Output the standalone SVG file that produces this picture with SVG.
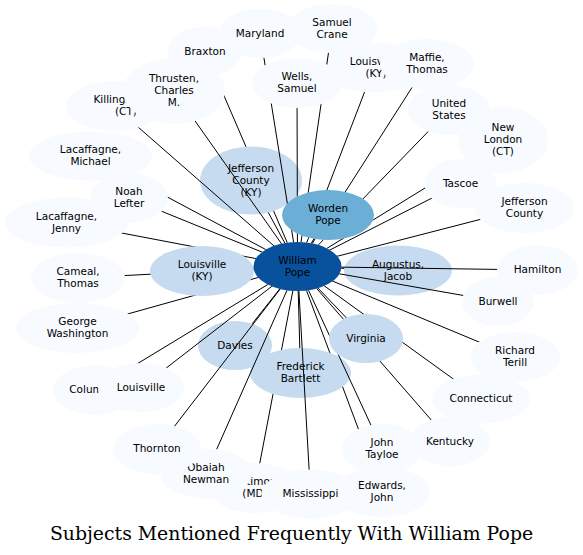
<svg xmlns="http://www.w3.org/2000/svg" width="583" height="555" viewBox="0 0 583 555">
<style>
.n ellipse{stroke:none}
.dark{fill:#08519c}.w{fill:#6baed6}.mid{fill:#c6dbef}.pale{fill:#f7fbff}
text{font-family:"DejaVu Sans","Liberation Sans",sans-serif;font-size:10.5px;text-anchor:middle;fill:#000}
text.title{font-family:"DejaVu Serif","Liberation Serif",serif;font-size:18.85px}
#edges line{stroke:#000;stroke-width:1;fill:none}
mask ellipse{fill:#000}
mask rect{fill:#fff}
</style>
<defs>
<mask id="mk-augustus" maskUnits="userSpaceOnUse" x="0" y="0" width="583" height="555"><rect width="583" height="555"/><ellipse cx="297.5" cy="266.5" rx="44" ry="24.5"/><ellipse cx="398" cy="270.5" rx="54" ry="25"/></mask>
<mask id="mk-baltimore" maskUnits="userSpaceOnUse" x="0" y="0" width="583" height="555"><rect width="583" height="555"/><ellipse cx="297.5" cy="266.5" rx="44" ry="24.5"/><ellipse cx="255" cy="488" rx="46" ry="25"/><ellipse cx="300.5" cy="373" rx="50.5" ry="25"/><ellipse cx="206" cy="473.5" rx="46" ry="25"/><ellipse cx="310.5" cy="494" rx="49" ry="24.5"/></mask>
<mask id="mk-braxton" maskUnits="userSpaceOnUse" x="0" y="0" width="583" height="555"><rect width="583" height="555"/><ellipse cx="297.5" cy="266.5" rx="44" ry="24.5"/><ellipse cx="205" cy="51.5" rx="37" ry="24.5"/><ellipse cx="251" cy="180.5" rx="51" ry="34"/><ellipse cx="174" cy="91" rx="51" ry="33"/></mask>
<mask id="mk-burwell" maskUnits="userSpaceOnUse" x="0" y="0" width="583" height="555"><rect width="583" height="555"/><ellipse cx="297.5" cy="266.5" rx="44" ry="24.5"/><ellipse cx="498" cy="301.5" rx="36" ry="24.5"/></mask>
<mask id="mk-cameal" maskUnits="userSpaceOnUse" x="0" y="0" width="583" height="555"><rect width="583" height="555"/><ellipse cx="297.5" cy="266.5" rx="44" ry="24.5"/><ellipse cx="78" cy="278" rx="47" ry="25"/><ellipse cx="202" cy="271" rx="52" ry="25"/></mask>
<mask id="mk-columbia" maskUnits="userSpaceOnUse" x="0" y="0" width="583" height="555"><rect width="583" height="555"/><ellipse cx="297.5" cy="266.5" rx="44" ry="24.5"/><ellipse cx="94" cy="390" rx="41" ry="24.5"/><ellipse cx="141" cy="387.5" rx="43" ry="24.5"/></mask>
<mask id="mk-connecticut" maskUnits="userSpaceOnUse" x="0" y="0" width="583" height="555"><rect width="583" height="555"/><ellipse cx="297.5" cy="266.5" rx="44" ry="24.5"/><ellipse cx="481" cy="399" rx="49" ry="24.5"/><ellipse cx="366" cy="338.5" rx="37" ry="24.5"/></mask>
<mask id="mk-davies" maskUnits="userSpaceOnUse" x="0" y="0" width="583" height="555"><rect width="583" height="555"/><ellipse cx="297.5" cy="266.5" rx="44" ry="24.5"/><ellipse cx="235" cy="345.5" rx="37" ry="24.5"/></mask>
<mask id="mk-edwards" maskUnits="userSpaceOnUse" x="0" y="0" width="583" height="555"><rect width="583" height="555"/><ellipse cx="297.5" cy="266.5" rx="44" ry="24.5"/><ellipse cx="382" cy="492" rx="48" ry="25"/><ellipse cx="300.5" cy="373" rx="50.5" ry="25"/><ellipse cx="382" cy="449" rx="40" ry="25"/><ellipse cx="366" cy="338.5" rx="37" ry="24.5"/></mask>
<mask id="mk-fb" maskUnits="userSpaceOnUse" x="0" y="0" width="583" height="555"><rect width="583" height="555"/><ellipse cx="297.5" cy="266.5" rx="44" ry="24.5"/><ellipse cx="300.5" cy="373" rx="50.5" ry="25"/></mask>
<mask id="mk-georgew" maskUnits="userSpaceOnUse" x="0" y="0" width="583" height="555"><rect width="583" height="555"/><ellipse cx="297.5" cy="266.5" rx="44" ry="24.5"/><ellipse cx="77.5" cy="328" rx="61.5" ry="25"/><ellipse cx="202" cy="271" rx="52" ry="25"/></mask>
<mask id="mk-hamilton" maskUnits="userSpaceOnUse" x="0" y="0" width="583" height="555"><rect width="583" height="555"/><ellipse cx="297.5" cy="266.5" rx="44" ry="24.5"/><ellipse cx="537.5" cy="270" rx="40.5" ry="24.5"/></mask>
<mask id="mk-jeffco" maskUnits="userSpaceOnUse" x="0" y="0" width="583" height="555"><rect width="583" height="555"/><ellipse cx="297.5" cy="266.5" rx="44" ry="24.5"/><ellipse cx="524.5" cy="208" rx="50" ry="25"/><ellipse cx="460.5" cy="183.5" rx="36" ry="24.5"/><ellipse cx="328" cy="215" rx="46" ry="25"/></mask>
<mask id="mk-jcky" maskUnits="userSpaceOnUse" x="0" y="0" width="583" height="555"><rect width="583" height="555"/><ellipse cx="297.5" cy="266.5" rx="44" ry="24.5"/><ellipse cx="251" cy="180.5" rx="51" ry="34"/><ellipse cx="328" cy="215" rx="46" ry="25"/></mask>
<mask id="mk-tayloe" maskUnits="userSpaceOnUse" x="0" y="0" width="583" height="555"><rect width="583" height="555"/><ellipse cx="297.5" cy="266.5" rx="44" ry="24.5"/><ellipse cx="382" cy="449" rx="40" ry="25"/><ellipse cx="366" cy="338.5" rx="37" ry="24.5"/><ellipse cx="450" cy="441.5" rx="40" ry="24.5"/></mask>
<mask id="mk-kentucky" maskUnits="userSpaceOnUse" x="0" y="0" width="583" height="555"><rect width="583" height="555"/><ellipse cx="297.5" cy="266.5" rx="44" ry="24.5"/><ellipse cx="450" cy="441.5" rx="40" ry="24.5"/><ellipse cx="366" cy="338.5" rx="37" ry="24.5"/></mask>
<mask id="mk-killingly" maskUnits="userSpaceOnUse" x="0" y="0" width="583" height="555"><rect width="583" height="555"/><ellipse cx="297.5" cy="266.5" rx="44" ry="24.5"/><ellipse cx="114" cy="106" rx="48" ry="25"/><ellipse cx="174" cy="91" rx="51" ry="33"/><ellipse cx="90.5" cy="156" rx="61.5" ry="24.5"/><ellipse cx="129" cy="198" rx="39" ry="25"/></mask>
<mask id="mk-jenny" maskUnits="userSpaceOnUse" x="0" y="0" width="583" height="555"><rect width="583" height="555"/><ellipse cx="297.5" cy="266.5" rx="44" ry="24.5"/><ellipse cx="66.5" cy="222.5" rx="61.5" ry="25"/><ellipse cx="202" cy="271" rx="52" ry="25"/><ellipse cx="129" cy="198" rx="39" ry="25"/></mask>
<mask id="mk-michael" maskUnits="userSpaceOnUse" x="0" y="0" width="583" height="555"><rect width="583" height="555"/><ellipse cx="297.5" cy="266.5" rx="44" ry="24.5"/><ellipse cx="90.5" cy="156" rx="61.5" ry="24.5"/><ellipse cx="129" cy="198" rx="39" ry="25"/></mask>
<mask id="mk-louisville" maskUnits="userSpaceOnUse" x="0" y="0" width="583" height="555"><rect width="583" height="555"/><ellipse cx="297.5" cy="266.5" rx="44" ry="24.5"/><ellipse cx="141" cy="387.5" rx="43" ry="24.5"/></mask>
<mask id="mk-louky" maskUnits="userSpaceOnUse" x="0" y="0" width="583" height="555"><rect width="583" height="555"/><ellipse cx="297.5" cy="266.5" rx="44" ry="24.5"/><ellipse cx="202" cy="271" rx="52" ry="25"/></mask>
<mask id="mk-louky2" maskUnits="userSpaceOnUse" x="0" y="0" width="583" height="555"><rect width="583" height="555"/><ellipse cx="297.5" cy="266.5" rx="44" ry="24.5"/><ellipse cx="374" cy="67.5" rx="52" ry="25"/><ellipse cx="328" cy="215" rx="46" ry="25"/><ellipse cx="427" cy="64" rx="47" ry="25"/><ellipse cx="297" cy="83" rx="45" ry="25"/></mask>
<mask id="mk-maffie" maskUnits="userSpaceOnUse" x="0" y="0" width="583" height="555"><rect width="583" height="555"/><ellipse cx="297.5" cy="266.5" rx="44" ry="24.5"/><ellipse cx="427" cy="64" rx="47" ry="25"/><ellipse cx="328" cy="215" rx="46" ry="25"/><ellipse cx="449" cy="110" rx="41" ry="25"/></mask>
<mask id="mk-maryland" maskUnits="userSpaceOnUse" x="0" y="0" width="583" height="555"><rect width="583" height="555"/><ellipse cx="297.5" cy="266.5" rx="44" ry="24.5"/><ellipse cx="260" cy="33.5" rx="41" ry="24.5"/><ellipse cx="297" cy="83" rx="45" ry="25"/><ellipse cx="328" cy="215" rx="46" ry="25"/></mask>
<mask id="mk-mississippi" maskUnits="userSpaceOnUse" x="0" y="0" width="583" height="555"><rect width="583" height="555"/><ellipse cx="297.5" cy="266.5" rx="44" ry="24.5"/><ellipse cx="310.5" cy="494" rx="49" ry="24.5"/></mask>
<mask id="mk-newlondon" maskUnits="userSpaceOnUse" x="0" y="0" width="583" height="555"><rect width="583" height="555"/><ellipse cx="297.5" cy="266.5" rx="44" ry="24.5"/><ellipse cx="503" cy="140" rx="45" ry="33"/><ellipse cx="328" cy="215" rx="46" ry="25"/><ellipse cx="460.5" cy="183.5" rx="36" ry="24.5"/><ellipse cx="449" cy="110" rx="41" ry="25"/></mask>
<mask id="mk-noah" maskUnits="userSpaceOnUse" x="0" y="0" width="583" height="555"><rect width="583" height="555"/><ellipse cx="297.5" cy="266.5" rx="44" ry="24.5"/><ellipse cx="129" cy="198" rx="39" ry="25"/></mask>
<mask id="mk-obaiah" maskUnits="userSpaceOnUse" x="0" y="0" width="583" height="555"><rect width="583" height="555"/><ellipse cx="297.5" cy="266.5" rx="44" ry="24.5"/><ellipse cx="206" cy="473.5" rx="46" ry="25"/><ellipse cx="157" cy="449" rx="44" ry="25"/></mask>
<mask id="mk-terill" maskUnits="userSpaceOnUse" x="0" y="0" width="583" height="555"><rect width="583" height="555"/><ellipse cx="297.5" cy="266.5" rx="44" ry="24.5"/><ellipse cx="515" cy="357" rx="45" ry="25"/><ellipse cx="366" cy="338.5" rx="37" ry="24.5"/></mask>
<mask id="mk-samuelcrane" maskUnits="userSpaceOnUse" x="0" y="0" width="583" height="555"><rect width="583" height="555"/><ellipse cx="297.5" cy="266.5" rx="44" ry="24.5"/><ellipse cx="332" cy="28.5" rx="45" ry="24.5"/><ellipse cx="297" cy="83" rx="45" ry="25"/><ellipse cx="328" cy="215" rx="46" ry="25"/></mask>
<mask id="mk-tascoe" maskUnits="userSpaceOnUse" x="0" y="0" width="583" height="555"><rect width="583" height="555"/><ellipse cx="297.5" cy="266.5" rx="44" ry="24.5"/><ellipse cx="460.5" cy="183.5" rx="36" ry="24.5"/><ellipse cx="328" cy="215" rx="46" ry="25"/></mask>
<mask id="mk-thornton" maskUnits="userSpaceOnUse" x="0" y="0" width="583" height="555"><rect width="583" height="555"/><ellipse cx="297.5" cy="266.5" rx="44" ry="24.5"/><ellipse cx="157" cy="449" rx="44" ry="25"/></mask>
<mask id="mk-thrusten" maskUnits="userSpaceOnUse" x="0" y="0" width="583" height="555"><rect width="583" height="555"/><ellipse cx="297.5" cy="266.5" rx="44" ry="24.5"/><ellipse cx="174" cy="91" rx="51" ry="33"/></mask>
<mask id="mk-us" maskUnits="userSpaceOnUse" x="0" y="0" width="583" height="555"><rect width="583" height="555"/><ellipse cx="297.5" cy="266.5" rx="44" ry="24.5"/><ellipse cx="449" cy="110" rx="41" ry="25"/><ellipse cx="328" cy="215" rx="46" ry="25"/></mask>
<mask id="mk-virginia" maskUnits="userSpaceOnUse" x="0" y="0" width="583" height="555"><rect width="583" height="555"/><ellipse cx="297.5" cy="266.5" rx="44" ry="24.5"/><ellipse cx="366" cy="338.5" rx="37" ry="24.5"/></mask>
<mask id="mk-wells" maskUnits="userSpaceOnUse" x="0" y="0" width="583" height="555"><rect width="583" height="555"/><ellipse cx="297.5" cy="266.5" rx="44" ry="24.5"/><ellipse cx="297" cy="83" rx="45" ry="25"/><ellipse cx="328" cy="215" rx="46" ry="25"/></mask>
<mask id="mk-worden" maskUnits="userSpaceOnUse" x="0" y="0" width="583" height="555"><rect width="583" height="555"/><ellipse cx="297.5" cy="266.5" rx="44" ry="24.5"/><ellipse cx="328" cy="215" rx="46" ry="25"/></mask>
</defs>
<rect width="583" height="555" fill="#fff"/>
<g id="nodes">
<g id="n-augustus" class="n"><ellipse class="mid" cx="398" cy="270.5" rx="54" ry="25"/><text x="398" y="267.5">Augustus,</text><text x="398" y="279.5">Jacob</text></g>
<g id="n-baltimore" class="n"><ellipse class="pale" cx="255" cy="488" rx="46" ry="25"/><text x="255" y="485">Baltimore</text><text x="255" y="497">(MD)</text></g>
<g id="n-braxton" class="n"><ellipse class="pale" cx="205" cy="51.5" rx="37" ry="24.5"/><text x="205" y="54.5">Braxton</text></g>
<g id="n-burwell" class="n"><ellipse class="pale" cx="498" cy="301.5" rx="36" ry="24.5"/><text x="498" y="304.5">Burwell</text></g>
<g id="n-cameal" class="n"><ellipse class="pale" cx="78" cy="278" rx="47" ry="25"/><text x="78" y="275">Cameal,</text><text x="78" y="287">Thomas</text></g>
<g id="n-columbia" class="n"><ellipse class="pale" cx="94" cy="390" rx="41" ry="24.5"/><text x="94" y="393">Columbia</text></g>
<g id="n-connecticut" class="n"><ellipse class="pale" cx="481" cy="399" rx="49" ry="24.5"/><text x="481" y="402">Connecticut</text></g>
<g id="n-davies" class="n"><ellipse class="mid" cx="235" cy="345.5" rx="37" ry="24.5"/><text x="235" y="348.5">Davies</text></g>
<g id="n-edwards" class="n"><ellipse class="pale" cx="382" cy="492" rx="48" ry="25"/><text x="382" y="489">Edwards,</text><text x="382" y="501">John</text></g>
<g id="n-fb" class="n"><ellipse class="mid" cx="300.5" cy="373" rx="50.5" ry="25"/><text x="300.5" y="370">Frederick</text><text x="300.5" y="382">Bartlett</text></g>
<g id="n-georgew" class="n"><ellipse class="pale" cx="77.5" cy="328" rx="61.5" ry="25"/><text x="77.5" y="325">George</text><text x="77.5" y="337">Washington</text></g>
<g id="n-hamilton" class="n"><ellipse class="pale" cx="537.5" cy="270" rx="40.5" ry="24.5"/><text x="537.5" y="273">Hamilton</text></g>
<g id="n-jeffco" class="n"><ellipse class="pale" cx="524.5" cy="208" rx="50" ry="25"/><text x="524.5" y="205">Jefferson</text><text x="524.5" y="217">County</text></g>
<g id="n-jcky" class="n"><ellipse class="mid" cx="251" cy="180.5" rx="51" ry="34"/><text x="251" y="171.5">Jefferson</text><text x="251" y="183.5">County</text><text x="251" y="195.5">(KY)</text></g>
<g id="n-tayloe" class="n"><ellipse class="pale" cx="382" cy="449" rx="40" ry="25"/><text x="382" y="446">John</text><text x="382" y="458">Tayloe</text></g>
<g id="n-kentucky" class="n"><ellipse class="pale" cx="450" cy="441.5" rx="40" ry="24.5"/><text x="450" y="444.5">Kentucky</text></g>
<g id="n-killingly" class="n"><ellipse class="pale" cx="114" cy="106" rx="48" ry="25"/><text x="114" y="103">Killingly</text><text x="126" y="115">(CT)</text></g>
<g id="n-jenny" class="n"><ellipse class="pale" cx="66.5" cy="222.5" rx="61.5" ry="25"/><text x="66.5" y="219.5">Lacaffagne,</text><text x="66.5" y="231.5">Jenny</text></g>
<g id="n-michael" class="n"><ellipse class="pale" cx="90.5" cy="156" rx="61.5" ry="24.5"/><text x="90.5" y="153">Lacaffagne,</text><text x="90.5" y="165">Michael</text></g>
<g id="n-louisville" class="n"><ellipse class="pale" cx="141" cy="387.5" rx="43" ry="24.5"/><text x="141" y="390.5">Louisville</text></g>
<g id="n-louky" class="n"><ellipse class="mid" cx="202" cy="271" rx="52" ry="25"/><text x="202" y="268">Louisville</text><text x="202" y="280">(KY)</text></g>
<g id="n-louky2" class="n"><ellipse class="pale" cx="374" cy="67.5" rx="52" ry="25"/><text x="374" y="64.5">Louisville</text><text x="376" y="76.5">(KY)</text></g>
<g id="n-maffie" class="n"><ellipse class="pale" cx="427" cy="64" rx="47" ry="25"/><text x="427" y="61">Maffie,</text><text x="427" y="73">Thomas</text></g>
<g id="n-maryland" class="n"><ellipse class="pale" cx="260" cy="33.5" rx="41" ry="24.5"/><text x="260" y="36.5">Maryland</text></g>
<g id="n-mississippi" class="n"><ellipse class="pale" cx="310.5" cy="494" rx="49" ry="24.5"/><text x="310.5" y="497">Mississippi</text></g>
<g id="n-newlondon" class="n"><ellipse class="pale" cx="503" cy="140" rx="45" ry="33"/><text x="503" y="131">New</text><text x="503" y="143">London</text><text x="503" y="155">(CT)</text></g>
<g id="n-noah" class="n"><ellipse class="pale" cx="129" cy="198" rx="39" ry="25"/><text x="129" y="195">Noah</text><text x="129" y="207">Lefter</text></g>
<g id="n-obaiah" class="n"><ellipse class="pale" cx="206" cy="473.5" rx="46" ry="25"/><text x="206" y="471">Obaiah</text><text x="206" y="483">Newman</text></g>
<g id="n-terill" class="n"><ellipse class="pale" cx="515" cy="357" rx="45" ry="25"/><text x="515" y="354">Richard</text><text x="515" y="366">Terill</text></g>
<g id="n-samuelcrane" class="n"><ellipse class="pale" cx="332" cy="28.5" rx="45" ry="24.5"/><text x="332" y="25.5">Samuel</text><text x="332" y="37.5">Crane</text></g>
<g id="n-tascoe" class="n"><ellipse class="pale" cx="460.5" cy="183.5" rx="36" ry="24.5"/><text x="460.5" y="186.5">Tascoe</text></g>
<g id="n-thornton" class="n"><ellipse class="pale" cx="157" cy="449" rx="44" ry="25"/><text x="157" y="452">Thornton</text></g>
<g id="n-thrusten" class="n"><ellipse class="pale" cx="174" cy="91" rx="51" ry="33"/><text x="174" y="82">Thrusten,</text><text x="174" y="94">Charles</text><text x="174" y="106">M.</text></g>
<g id="n-us" class="n"><ellipse class="pale" cx="449" cy="110" rx="41" ry="25"/><text x="449" y="107">United</text><text x="449" y="119">States</text></g>
<g id="n-virginia" class="n"><ellipse class="mid" cx="366" cy="338.5" rx="37" ry="24.5"/><text x="366" y="341.5">Virginia</text></g>
<g id="n-wells" class="n"><ellipse class="pale" cx="297" cy="83" rx="45" ry="25"/><text x="297" y="80">Wells,</text><text x="297" y="92">Samuel</text></g>
<g id="n-pope" class="n"><ellipse class="dark" cx="297.5" cy="266.5" rx="44" ry="24.5"/><text x="297.5" y="263.5">William</text><text x="297.5" y="275.5">Pope</text></g>
<g id="n-worden" class="n"><ellipse class="w" cx="328" cy="215" rx="46" ry="25"/><text x="328" y="212">Worden</text><text x="328" y="224">Pope</text></g>
</g>
<g id="edges">
<line x1="297.5" y1="266.5" x2="398" y2="270.5" mask="url(#mk-augustus)"/>
<line x1="297.5" y1="266.5" x2="255" y2="488" mask="url(#mk-baltimore)"/>
<line x1="297.5" y1="266.5" x2="205" y2="51.5" mask="url(#mk-braxton)"/>
<line x1="297.5" y1="266.5" x2="498" y2="301.5" mask="url(#mk-burwell)"/>
<line x1="297.5" y1="266.5" x2="78" y2="278" mask="url(#mk-cameal)"/>
<line x1="297.5" y1="266.5" x2="94" y2="390" mask="url(#mk-columbia)"/>
<line x1="297.5" y1="266.5" x2="481" y2="399" mask="url(#mk-connecticut)"/>
<line x1="297.5" y1="266.5" x2="235" y2="345.5" mask="url(#mk-davies)"/>
<line x1="297.5" y1="266.5" x2="382" y2="492" mask="url(#mk-edwards)"/>
<line x1="297.5" y1="266.5" x2="300.5" y2="373" mask="url(#mk-fb)"/>
<line x1="297.5" y1="266.5" x2="77.5" y2="328" mask="url(#mk-georgew)"/>
<line x1="297.5" y1="266.5" x2="537.5" y2="270" mask="url(#mk-hamilton)"/>
<line x1="297.5" y1="266.5" x2="524.5" y2="208" mask="url(#mk-jeffco)"/>
<line x1="297.5" y1="266.5" x2="251" y2="180.5" mask="url(#mk-jcky)"/>
<line x1="297.5" y1="266.5" x2="382" y2="449" mask="url(#mk-tayloe)"/>
<line x1="297.5" y1="266.5" x2="450" y2="441.5" mask="url(#mk-kentucky)"/>
<line x1="297.5" y1="266.5" x2="114" y2="106" mask="url(#mk-killingly)"/>
<line x1="297.5" y1="266.5" x2="66.5" y2="222.5" mask="url(#mk-jenny)"/>
<line x1="297.5" y1="266.5" x2="90.5" y2="156" mask="url(#mk-michael)"/>
<line x1="297.5" y1="266.5" x2="141" y2="387.5" mask="url(#mk-louisville)"/>
<line x1="297.5" y1="266.5" x2="202" y2="271" mask="url(#mk-louky)"/>
<line x1="297.5" y1="266.5" x2="374" y2="67.5" mask="url(#mk-louky2)"/>
<line x1="297.5" y1="266.5" x2="427" y2="64" mask="url(#mk-maffie)"/>
<line x1="297.5" y1="266.5" x2="260" y2="33.5" mask="url(#mk-maryland)"/>
<line x1="297.5" y1="266.5" x2="310.5" y2="494" mask="url(#mk-mississippi)"/>
<line x1="297.5" y1="266.5" x2="503" y2="140" mask="url(#mk-newlondon)"/>
<line x1="297.5" y1="266.5" x2="129" y2="198" mask="url(#mk-noah)"/>
<line x1="297.5" y1="266.5" x2="206" y2="473.5" mask="url(#mk-obaiah)"/>
<line x1="297.5" y1="266.5" x2="515" y2="357" mask="url(#mk-terill)"/>
<line x1="297.5" y1="266.5" x2="332" y2="28.5" mask="url(#mk-samuelcrane)"/>
<line x1="297.5" y1="266.5" x2="460.5" y2="183.5" mask="url(#mk-tascoe)"/>
<line x1="297.5" y1="266.5" x2="157" y2="449" mask="url(#mk-thornton)"/>
<line x1="297.5" y1="266.5" x2="174" y2="91" mask="url(#mk-thrusten)"/>
<line x1="297.5" y1="266.5" x2="449" y2="110" mask="url(#mk-us)"/>
<line x1="297.5" y1="266.5" x2="366" y2="338.5" mask="url(#mk-virginia)"/>
<line x1="297.5" y1="266.5" x2="297" y2="83" mask="url(#mk-wells)"/>
<line x1="297.5" y1="266.5" x2="328" y2="215" mask="url(#mk-worden)"/>
</g>
<text class="title" x="291.5" y="540">Subjects Mentioned Frequently With William Pope</text>
</svg>
